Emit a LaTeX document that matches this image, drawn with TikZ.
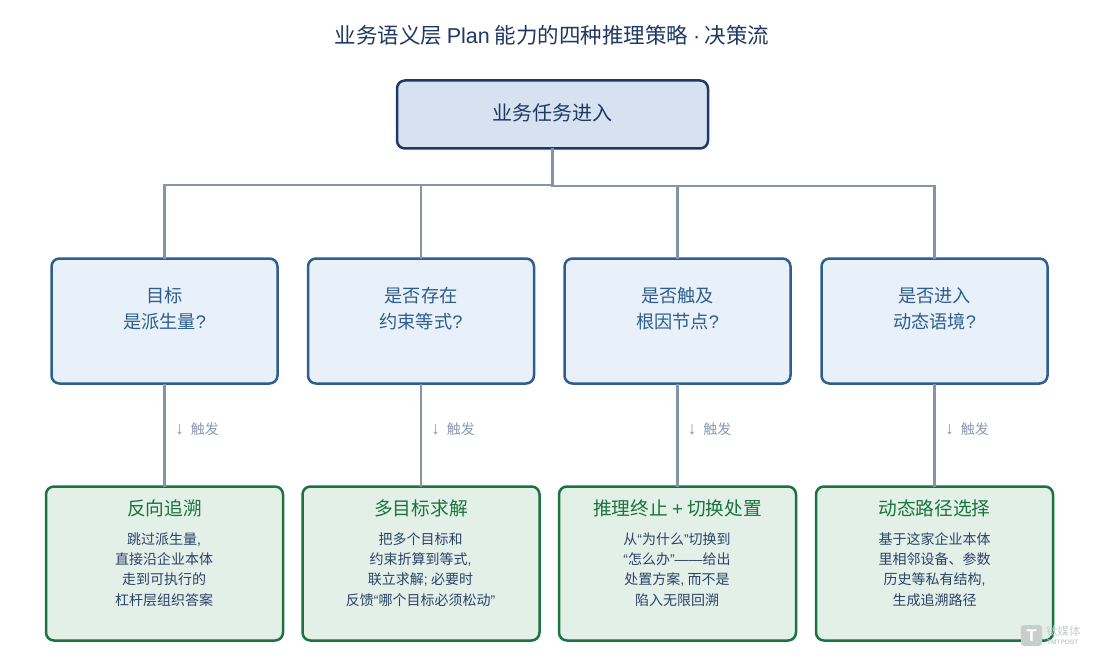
\documentclass[tikz,border=0pt]{standalone}
\usepackage{fontspec}
\setmainfont{Noto Sans CJK SC}
\newfontfamily\lat{Liberation Sans}
\definecolor{navy}{HTML}{1F3864}
\definecolor{rootfill}{HTML}{D6E2F0}
\definecolor{qline}{HTML}{2E5E8E}
\definecolor{qfill}{HTML}{E8F0F9}
\definecolor{gline}{HTML}{1A7340}
\definecolor{gfill}{HTML}{E2F0E8}
\definecolor{conn}{HTML}{8495A9}
\definecolor{trig}{HTML}{8A9AAE}
\definecolor{body}{HTML}{2C4267}
\definecolor{wm}{HTML}{C9CDCC}
\tikzset{
  x=1pt,y=-1pt,
  box/.style={rounded corners=8pt,line width=2.5pt,inner sep=0pt,outer sep=0pt,align=center},
  rootbox/.style={box,draw=navy,fill=rootfill,minimum width=311pt,minimum height=68pt,text=navy,font=\fontsize{20}{24}\selectfont},
  qbox/.style={box,draw=qline,fill=qfill,minimum width=226pt,minimum height=125pt},
  gbox/.style={box,draw=gline,fill=gfill,minimum width=237pt,minimum height=154pt},
  qtext/.style={text=qline,align=center,font=\fontsize{18.2}{26}\selectfont},
  gtitle/.style={text=gline,font=\fontsize{18.7}{22}\selectfont},
  gbody/.style={text=body,align=center,font=\fontsize{14}{20.3}\selectfont},
  trigtext/.style={text=trig,font=\fontsize{14}{17}\selectfont,anchor=west},
  link/.style={draw=conn,line width=2.7pt},
}
\newcommand{\qm}{{\lat ?}}
\newcommand{\downmark}{\makebox[12.3pt][l]{\hspace{-3.5pt}{\lat\fontsize{18}{17}\selectfont ↓}}}
\begin{document}
\begin{tikzpicture}
\useasboundingbox (0,0) rectangle (1109,666);
\fill[white] (0,0) rectangle (1109,666);
\node[text=navy,font=\fontsize{21.5}{26}\selectfont] (title) at (552,35) {业务语义层 {\lat Plan} 能力的四种推理策略 {\lat ·} 决策流};

\coordinate (busL) at (164.5,185);
\coordinate (busR) at (934.5,186);
\coordinate (busM) at (552.5,186);
\coordinate (busML) at (552.5,185);

\node[rootbox] (root) at (552.5,114.5) {};
\node[text=navy,font=\fontsize{20}{24}\selectfont] (roott) at (552,113) {业务任务进入};

\node[qbox] (q1) at (164.5,321) {};
\node[qbox] (q2) at (421,321) {};
\node[qbox] (q3) at (677.5,321) {};
\node[qbox] (q4) at (934.5,321) {};

\node[gbox] (g1) at (164.5,563.5) {};
\node[gbox] (g2) at (421,563.5) {};
\node[gbox] (g3) at (677.5,563.5) {};
\node[gbox] (g4) at (934.5,563.5) {};

\draw[link] (root.south) -- (busM);
\draw[link,line cap=rect] (busL) -- (busML);
\draw[link,line cap=rect] (busM) -- (busR);
\draw[link] (busL) -- (q1.north);
\draw[link] (q2.north |- busML) -- (q2.north);
\draw[link] (q3.north |- busM) -- (q3.north);
\draw[link] (busR) -- (q4.north);
\draw[link] (q1.south) -- (g1.north);
\draw[link] (q2.south) -- (g2.north);
\draw[link] (q3.south) -- (g3.north);
\draw[link] (q4.south) -- (g4.north);

\node[qtext] (q1t) at (164.5,308.5) {目标\\是派生量\qm};
\node[qtext] (q2t) at (421,308.5) {是否存在\\约束等式\qm};
\node[qtext] (q3t) at (677.5,308.5) {是否触及\\根因节点\qm};
\node[qtext] (q4t) at (934.5,308.5) {是否进入\\动态语境\qm};

\node[trigtext] (t1) at (175,429.5) {\downmark 触发};
\node[trigtext] (t2) at (431,429.5) {\downmark 触发};
\node[trigtext] (t3) at (687.5,429.5) {\downmark 触发};
\node[trigtext] (t4) at (945,429.5) {\downmark 触发};

\node[gtitle] (g1h) at (164.5,508) {反向追溯};
\node[gtitle] (g2h) at (421,508) {多目标求解};
\node[gtitle] (g3h) at (677.5,508) {推理终止 {\lat +} 切换处置};
\node[gtitle] (g4h) at (934.5,508) {动态路径选择};

\node[gbody] (g1b) at (164,569.5) {跳过派生量{\lat ,}\\直接沿企业本体\\走到可执行的\\杠杆层组织答案};
\node[gbody] (g2b) at (420.5,569.5) {把多个目标和\\约束折算到等式{\lat ,}\\联立求解{\lat ;} 必要时\\反馈{\lat “}哪个目标必须松动{\lat ”}};
\node[gbody] (g3b) at (677,569.5) {从{\lat “}为什么{\lat ”}切换到\\{\lat “}怎么办{\lat ”——}给出\\处置方案{\lat ,} 而不是\\陷入无限回溯};
\node[gbody] (g4b) at (934.5,569.5) {基于这家企业本体\\里相邻设备、参数\\历史等私有结构{\lat ,}\\生成追溯路径};

\fill[wm,rounded corners=3pt] (1021,625) rectangle (1042,646);
\node[text=white,font=\bfseries\fontsize{17}{17}\selectfont\lat,inner sep=0pt] (wmT) at (1031.5,635.5) {T};
\node[text=wm,font=\fontsize{11.5}{11.5}\selectfont,inner sep=0pt,anchor=west] (wm1) at (1046,631.5) {钛媒体};
\node[text=wm,font=\bfseries\fontsize{6.5}{6.5}\selectfont\lat,inner sep=0pt,anchor=west] (wm2) at (1047,642.5) {TMTPOST};
\end{tikzpicture}
\end{document}
